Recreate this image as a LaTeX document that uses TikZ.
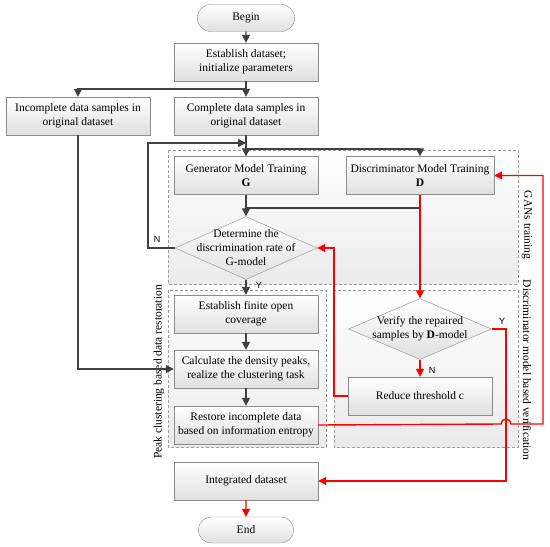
\documentclass[tikz,border=0pt]{standalone}
\usepackage{fontspec}
\setmainfont{Liberation Serif}
\setsansfont{Liberation Sans}
\usetikzlibrary{shapes.geometric,shapes.misc,arrows.meta}
\definecolor{linegray}{HTML}{404040}
\definecolor{boxedge}{HTML}{8C8C8C}
\definecolor{boxfill}{HTML}{E0E0E0}
\definecolor{regionfill}{HTML}{EBEBEB}

\begin{document}
\begin{tikzpicture}[x=1pt,y=-1pt,
   font=\fontsize{11.5}{14}\selectfont,
   box/.style={draw=boxedge,top color=white,bottom color=boxfill,minimum width=144pt,minimum height=38pt,align=center,inner sep=1pt},
   term/.style={draw=boxedge,top color=white,bottom color=boxfill,rounded rectangle,minimum width=104pt,minimum height=27pt},
   dia/.style={draw=boxedge,top color=white,bottom color=boxfill,diamond,minimum width=142pt,minimum height=63pt,inner sep=0pt},
   region/.style={draw=gray!75,dash pattern=on 3pt off 2pt,top color=white,bottom color=regionfill},
   blk/.style={draw=linegray,line width=1.4pt,-{Triangle[length=8pt,width=8pt]}},
   rd/.style={draw=red,line width=1.4pt,-{Triangle[length=8pt,width=8pt]}},
   yn/.style={font=\sffamily\fontsize{9}{10}\selectfont}]
   \useasboundingbox (0,0) rectangle (550,547);
   % dashed regions
   \path[region] (168,150) rectangle (518,284);
   \path[region] (168,290) rectangle (326,447);
   \path[region] (334,290) rectangle (518,447);
   \node[rotate=-90] (lgan) at (527,225) {GANs training};
   \node[rotate=-90] (lver) at (527,370) {Discriminator model based verification};
   \node[rotate=90] (lpeak) at (159,372) {Peak clustering based data restoration};
   % nodes
   \node[term] (begin) at (246,18) {Begin};
   \node[box] (est) at (246,62) {Establish dataset;\\initialize parameters};
   \node[box] (inc) at (78,116) {Incomplete data samples in\\original dataset};
   \node[box] (comp) at (246,116) {Complete data samples in\\original dataset};
   \node[box] (gen) at (246,175.5) {Generator Model Training\\\textbf{G}};
   \node[box,minimum width=148pt] (disc) at (420,175.5) {Discriminator Model Training\\\textbf{D}};
   \node[dia] (det) at (246,248) {};
   \node[align=center] (dett) at (det) {Determine the\\discrimination rate of\\G-model};
   \node[box] (fin) at (246,314) {Establish finite open\\coverage};
   \node[box] (calc) at (246,369) {Calculate the density peaks,\\realize the clustering task};
   \node[box] (rest) at (246,425) {Restore incomplete data\\based on information entropy};
   \node[dia,minimum height=61pt,minimum width=143pt] (ver) at (420,329) {};
   \node[align=center] (vert) at (ver) {Verify the repaired\\samples by \textbf{D}-model};
   \node[box] (thr) at (420,396) {Reduce threshold c};
   \node[box] (integ) at (246,481) {Integrated dataset};
   \node[term,minimum height=26pt,minimum width=102pt] (end) at (246,530) {End};
   \coordinate (split) at (246,89);
   \coordinate (back) at (246,143);
   \coordinate (fork) at (246,149);
   \coordinate (merge) at (420,208);
   % black connectors
   \draw[blk] (begin) -- (est);
   \draw[blk] (est) -- (comp);
   \draw[blk] (split) -| (inc);
   \draw[blk] (comp) -- (gen);
   \draw[blk] (fork) -| (disc);
   \draw[blk] (det.west) -- (148,248) -- (148,143) -- (back);
   \draw[draw=linegray,line width=1.4pt] (disc.south) -- (merge) -- (246,208);
   \draw[blk] (gen) -- (det);
   \draw[blk] (det) -- (fin);
   \draw[blk] (fin) -- (calc);
   \draw[blk] (calc) -- (rest);
   \draw[blk] (inc) |- (calc);
   % red connectors
   \draw[rd] (disc.south) -- (ver.north);
   \draw[rd] (ver.south) -- (thr.north);
   \draw[rd] (thr.west) -- (334,396) -- (334,248) -- (det.east);
   \draw[rd] (ver.east) -- (506,329) -- (506,481) -- (integ.east);
   \draw[rd] (rest.east) -- (501,424) arc[start angle=180,end angle=0,radius=5pt] -- (543,424) -- (543,175.5) -- (disc.east);
   \draw[rd] (integ) -- (end);
   % Y / N labels
   \node[yn] (n1) at (157,239) {N};
   \node[yn] (y1) at (259,285) {Y};
   \node[yn] (y2) at (502,321) {Y};
   \node[yn] (n2) at (432,370) {N};
\end{tikzpicture}
\end{document}
